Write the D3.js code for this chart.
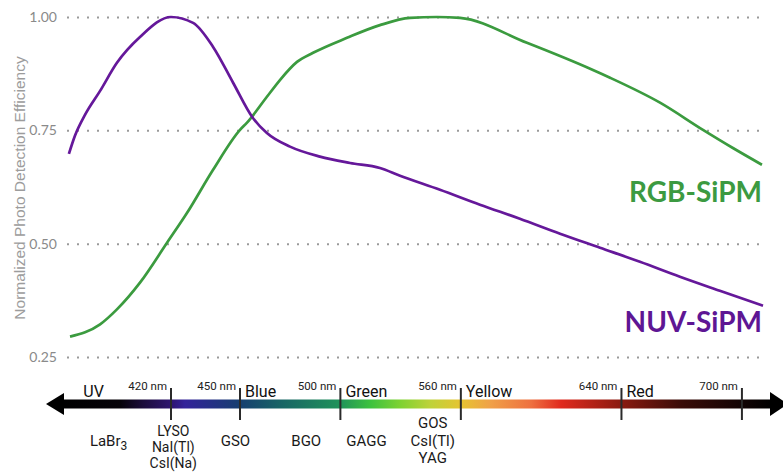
<!DOCTYPE html>
<html>
<head>
<meta charset="utf-8">
<script src="https://cdn.jsdelivr.net/npm/d3@7"></script>
<style>
  html, body { margin: 0; padding: 0; background: #fff; }
  svg { display: block; }
</style>
</head>
<body>
<svg id="chart" width="783" height="473"></svg>
<script>
// Normalized photo detection efficiency of two SiPM types vs. wavelength (nm)
const nuvWavelength = [366, 369.2, 374.5, 382.5, 391.4, 403.6, 420, 429.6, 438.3, 447, 456, 463.4, 474.9, 489.8, 504.8, 519.7, 529.7, 549.6, 569.5, 589.4, 609.4, 629.3, 649.2, 669.1, 689, 710.5];
const nuvPDE        = [0.698, 0.738, 0.784, 0.837, 0.899, 0.956, 1.000, 0.987, 0.934, 0.855, 0.780, 0.744, 0.714, 0.692, 0.678, 0.667, 0.650, 0.619, 0.586, 0.555, 0.522, 0.491, 0.460, 0.427, 0.396, 0.363];

const rgbWavelength = [366.6, 382.5, 391.4, 403.6, 417.9, 427, 438.3, 450, 453.5, 463.4, 469.9, 478.4, 486.4, 503.3, 519.7, 534.7, 548.1, 559.6, 592.9, 625.8, 634.3, 659.2, 680.6, 695.5, 710];
const rgbPDE        = [0.295, 0.322, 0.355, 0.414, 0.502, 0.568, 0.663, 0.751, 0.767, 0.824, 0.861, 0.901, 0.921, 0.954, 0.982, 0.998, 1.000, 0.998, 0.943, 0.883, 0.866, 0.811, 0.751, 0.711, 0.674];

const yTicks = [0.25, 0.50, 0.75, 1.00];

// Wavelength ruler
const nmTicks   = [420, 450, 500, 560, 640, 700];
const bandNames = ["UV", "Blue", "Green", "Yellow", "Red"];
const bandStart = [371, 450, 500, 560, 640];

// Scintillators placed at their emission wavelength
const scintLabels = [["LaBr|3"], ["LYSO", "NaI(Tl)", "CsI(Na)"], ["GSO"], ["BGO"], ["GAGG"], ["GOS", "CsI(Tl)", "YAG"]];
const scintNm     = [387, 421, 448, 483, 513, 546];

// Colour of the visible spectrum strip
const spectrumNm     = [330, 393, 405, 420, 426, 450, 470, 500, 515, 530, 545, 560, 575, 595, 610, 640, 670, 700, 740];
const spectrumColour = ["#000000", "#060309", "#1b0c3a", "#2e1570", "#33239a", "#173f70", "#186466", "#20935a", "#3dc23e", "#7fd232", "#bfd23a", "#e6c432", "#f0a048", "#ee7040", "#e02a1e", "#8a1a10", "#3a0c08", "#120404", "#000000"];

const GREEN = "#3b9b3f", PURPLE = "#65189a";

const svg = d3.select("#chart");

const x = d3.scaleLinear().domain([365, 420, 450, 710]).range([67, 171, 240, 762]);
const y = d3.scaleLinear().domain([0.25, 1]).range([357, 17]);

// Y axis with dotted grid lines
const yAxis = svg.append("g")
  .attr("transform", "translate(67,0)")
  .call(d3.axisLeft(y).tickValues(yTicks).tickFormat(d3.format(".2f")).tickSize(-695).tickPadding(10));
yAxis.select(".domain").remove();
yAxis.selectAll(".tick line")
  .attr("stroke", "#9a9a9a").attr("stroke-width", 2).attr("stroke-dasharray", "2 8");
yAxis.selectAll(".tick text")
  .attr("fill", "#8a8a8a").style("font-family", "Lato, sans-serif").style("font-size", "14px");

svg.append("text")
  .attr("transform", "translate(25,188) rotate(-90)")
  .attr("text-anchor", "middle")
  .attr("fill", "#9c9c9c")
  .style("font-family", "'Liberation Sans', Arial, sans-serif").style("font-size", "15.5px")
  .text("Normalized Photo Detection Efficiency");

// Curves
const line = (xs, ys) => d3.line().x((d, i) => x(xs[i])).y(d => y(d)).curve(d3.curveMonotoneX)(ys);
svg.append("path").attr("d", line(rgbWavelength, rgbPDE))
  .attr("fill", "none").attr("stroke", GREEN).attr("stroke-width", 2.7);
svg.append("path").attr("d", line(nuvWavelength, nuvPDE))
  .attr("fill", "none").attr("stroke", PURPLE).attr("stroke-width", 2.7);

// Series labels
svg.append("text").attr("x", 762).attr("y", 202).attr("text-anchor", "end")
  .attr("fill", "#3c9a41").style("font-family", "Lato, sans-serif").style("font-weight", "700").style("font-size", "28px")
  .text("RGB-SiPM");
svg.append("text").attr("x", 762).attr("y", 332).attr("text-anchor", "end")
  .attr("fill", "#5e1694").style("font-family", "Lato, sans-serif").style("font-weight", "700").style("font-size", "28px")
  .text("NUV-SiPM");

// Spectrum strip with arrowheads at both ends
const barLeft = 60, barRight = 772, barY = 399.5, barH = 9;
const grad = svg.append("defs").append("linearGradient")
  .attr("id", "spectrum").attr("gradientUnits", "userSpaceOnUse")
  .attr("x1", barLeft).attr("x2", barRight).attr("y1", 0).attr("y2", 0);
spectrumNm.forEach((nm, i) => {
  const off = Math.max(0, Math.min(1, (x(nm) - barLeft) / (barRight - barLeft)));
  grad.append("stop").attr("offset", off).attr("stop-color", spectrumColour[i]);
});
svg.append("rect").attr("x", barLeft).attr("y", barY).attr("width", barRight - barLeft).attr("height", barH)
  .attr("fill", "url(#spectrum)");
svg.append("path").attr("d", "M46,404 L64,393 L64,415 Z").attr("fill", "#000");
svg.append("path").attr("d", "M770,392 L788,404 L770,416 Z").attr("fill", "#000");

// Wavelength ticks and labels
const ruler = svg.append("g");
ruler.selectAll("line.nm").data(nmTicks).join("line")
  .attr("x1", d => x(d)).attr("x2", d => x(d)).attr("y1", 388).attr("y2", 420)
  .attr("stroke", "#2a2a2a").attr("stroke-width", 2);
ruler.selectAll("text.nm").data(nmTicks).join("text")
  .attr("x", d => x(d) - 4).attr("y", 390).attr("text-anchor", "end")
  .attr("fill", "#222").style("font-family", "Roboto, sans-serif").style("font-size", "11.5px")
  .text(d => d + " nm");
ruler.selectAll("text.band").data(bandNames).join("text")
  .attr("x", (d, i) => x(bandStart[i]) + 5).attr("y", 397)
  .attr("fill", "#111").style("font-family", "Roboto, sans-serif").style("font-size", "16px")
  .text(d => d);

// Scintillator names below the strip
const firstBaseline = { 1: 436, 5: 428 };
const lineStep = { 1: 16, 5: 17.5 };
const groupFont = { 1: "14px", 5: "15px" };
scintLabels.forEach((names, gi) => {
  names.forEach((name, li) => {
    const base = names.length === 1 ? 446 : firstBaseline[gi] + li * lineStep[gi];
    const t = svg.append("text")
      .attr("x", x(scintNm[gi])).attr("y", base).attr("text-anchor", "middle")
      .attr("fill", "#1a1a1a").style("font-family", "Roboto, sans-serif")
      .style("font-size", names.length === 1 ? "15px" : groupFont[gi]);
    const [main, sub] = name.split("|");
    t.append("tspan").text(main);
    if (sub) t.append("tspan").attr("dy", 4).style("font-size", "12px").text(sub);
  });
});
</script>
</body>
</html>
